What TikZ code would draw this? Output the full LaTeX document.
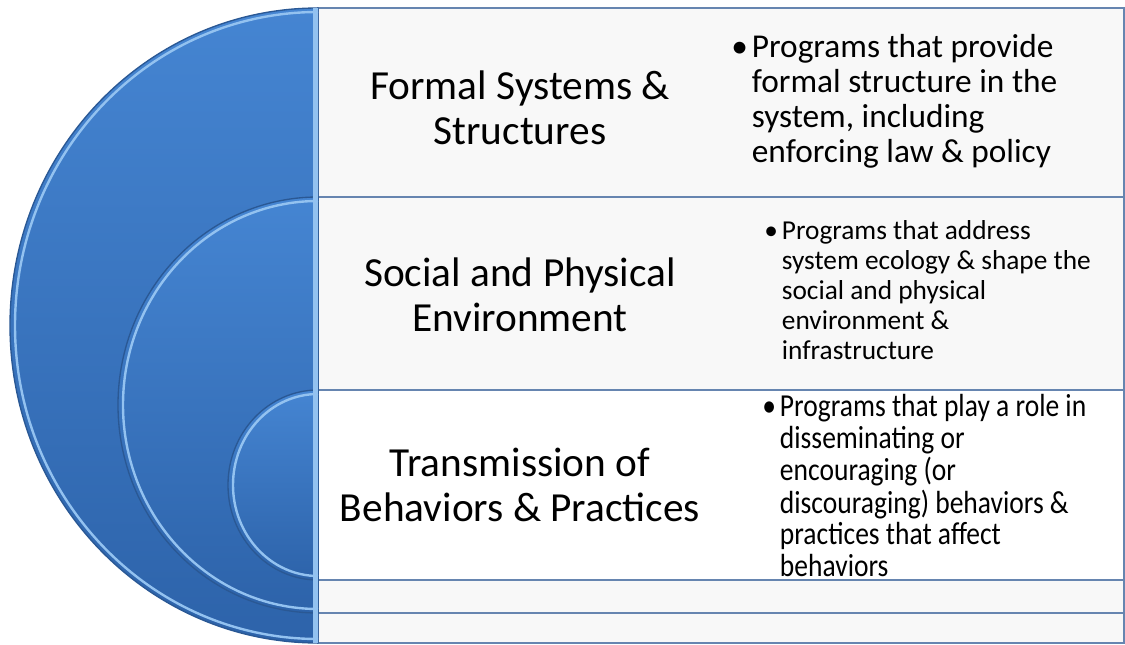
\documentclass[tikz,border=0pt]{standalone}
\usepackage{fontspec}
\setmainfont{Carlito}
\newfontfamily\narrowfont[FakeStretch=0.86]{Carlito}
\usetikzlibrary{positioning}
\definecolor{ringtop}{HTML}{4585D2}
\definecolor{ringbottom}{HTML}{2D63AA}
\definecolor{ringedge}{HTML}{2A5894}
\definecolor{ringrim}{HTML}{93C2F0}
\definecolor{rowline}{HTML}{6685B0}
\definecolor{rowfill}{HTML}{F8F8F8}
\tikzset{ring/.style={draw=ringedge,line width=1pt,top color=ringtop,bottom color=ringbottom}}
\tikzset{rim/.style={draw=ringrim,line width=1.8pt}}
\tikzset{row/.style={draw=rowline,line width=1.3pt,fill=rowfill}}
\tikzset{layer/.style={font=\fontsize{31}{34}\selectfont,align=center}}
\tikzset{note/.style={anchor=north west,inner sep=0pt,align=left}}

\begin{document}
\begin{tikzpicture}[x=0.75pt,y=0.75pt]
    \useasboundingbox (0,0) rectangle (1125,644);

    % rows on the right
    \draw[row] (318,636) rectangle (1124,447);
    \draw[row] (318,447) rectangle (1124,254);
    \draw[row,fill=white] (318,254) rectangle (1124,64);
    \draw[row] (318,64) rectangle (1124,31);
    \draw[row] (318,31) rectangle (1124,1);

    % nested half rings
    \path[ring] (318,636) arc[start angle=90,end angle=270,x radius=308,y radius=317.5] -- cycle;
    \draw[rim] (318,632) arc[start angle=90,end angle=270,x radius=303,y radius=313.5];
    \path[ring] (318,447) arc[start angle=90,end angle=270,x radius=200,y radius=208] -- cycle;
    \draw[rim] (318,443) arc[start angle=90,end angle=270,x radius=195,y radius=204];
    \path[ring] (318,254) arc[start angle=90,end angle=270,x radius=90,y radius=95] -- cycle;
    \draw[rim] (318,250) arc[start angle=90,end angle=270,x radius=85,y radius=91];
    \fill[ringrim] (313,636) rectangle (318,1);

    % layer names
    \node[layer] (formal) at (520,536) {Formal Systems \&\\Structures};
    \node[layer] (social) at (520,349) {Social and Physical\\Environment};
    \node[layer] (transmit) at (520,159) {Transmission of\\Behaviors \& Practices};

    % descriptions
    \node[note,font=\fontsize{25}{26.25}\selectfont] (formaltext) at (731,611) {%
      \begin{tabular}{@{}l@{\hspace{3pt}}l@{}}
      \textbullet & Programs that provide\\
      & formal structure in the\\
      & system, including\\
      & enforcing law \& policy
      \end{tabular}};
    \node[note,font=\fontsize{20.5}{22.5}\selectfont] (socialtext) at (764,426) {%
      \begin{tabular}{@{}l@{\hspace{3pt}}l@{}}
      \textbullet & Programs that address\\
      & system ecology \& shape the\\
      & social and physical\\
      & environment \&\\
      & infrastructure
      \end{tabular}};
    \node[note,font=\narrowfont\fontsize{24}{23.25}\selectfont] (transmittext) at (762,250) {%
      \begin{tabular}{@{}l@{\hspace{3pt}}l@{}}
      \textbullet & Programs that play a role in\\
      & disseminating or\\
      & encouraging (or\\
      & discouraging) behaviors \&\\
      & practices that affect\\
      & behaviors
      \end{tabular}};
\end{tikzpicture}
\end{document}
